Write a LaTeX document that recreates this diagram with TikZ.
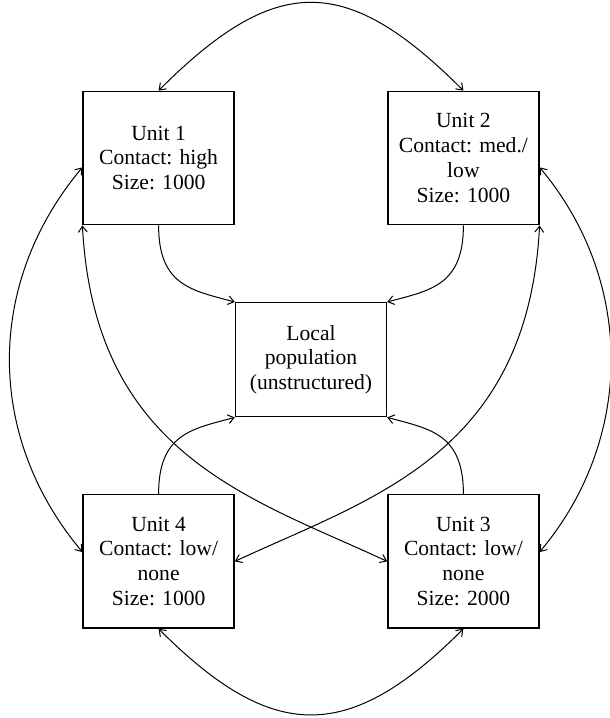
\documentclass[tikz,border=0pt]{standalone}
\usepackage{fontspec}
\setmainfont{Liberation Serif}
\usepackage{tikz}
\usetikzlibrary{arrows.meta, positioning}
\tikzset{%
    nodesty/.style={
        draw,
        line width=0.7pt,
        align=center,
        inner sep=0pt,
        minimum height=66.7pt,
        minimum width=75.5pt,
        font=\fontsize{10.8}{12.4}\selectfont,
    },
    locsty/.style={
        nodesty,
        minimum height=57pt,
    },
    arrsty/.style={
        line width=0.5pt,
        -{Straight Barb[length=3pt,width=4.4pt]},
    },
    darrsty/.style={
        arrsty,
        {Straight Barb[length=3pt,width=4.4pt]}-{Straight Barb[length=3pt,width=4.4pt]},
    },
}
\begin{document}
\begin{tikzpicture}[x=0.5pt,y=0.5pt]
\useasboundingbox (0,0) rectangle (610,718);

% local population in the middle
\node (loc) [locsty] at (311,358.3) {Local\\population\\(unstructured)};

% unit nodes
\node (u1) [nodesty,above left=38.3pt and 0pt of loc.north west] {Unit 1\\Contact: high\\Size: 1000};
\node (u2) [nodesty,above right=38.3pt and 0pt of loc.north east] {Unit 2\\Contact: med./\\low\\Size: 1000};
\node (u4) [nodesty,below left=38.3pt and 0pt of loc.south west] {Unit 4\\Contact: low/\\none\\Size: 1000};
\node (u3) [nodesty,below right=38.3pt and 0pt of loc.south east] {Unit 3\\Contact: low/\\none\\Size: 2000};

% units to local population
\draw [arrsty] (u1.south) .. controls +(-90:60) and +(165:45) .. (loc.north west);
\draw [arrsty] (u2.south) .. controls +(-90:60) and +(15:45) .. (loc.north east);
\draw [arrsty] (u4.north) .. controls +(90:60) and +(195:45) .. (loc.south west);
\draw [arrsty] (u3.north) .. controls +(90:60) and +(-15:45) .. (loc.south east);

% exchange between units
\draw [darrsty] (u1.north) .. controls +(45:166) and +(135:166) .. (u2.north);
\draw [darrsty] (u4.south) .. controls +(-45:162) and +(-135:162) .. (u3.south);
\draw [darrsty] (u1.187) .. controls +(230:151) and +(130:151) .. (u4.173);
\draw [darrsty] (u2.353) .. controls +(-50:148) and +(50:148) .. (u3.7);
\draw [darrsty] (u1.south west) .. controls +(-87:230) and +(155:150) .. (u3.west);
\draw [darrsty] (u2.south east) .. controls +(-93:230) and +(25:150) .. (u4.east);

\end{tikzpicture}
\end{document}
